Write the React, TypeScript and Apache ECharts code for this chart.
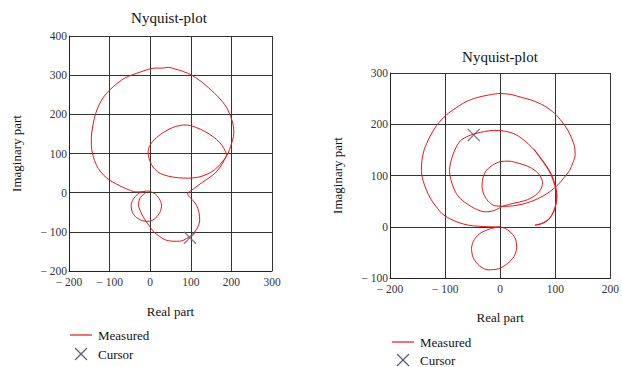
import React, { useEffect, useRef } from "react";
import * as echarts from "echarts";

// ---- Left Nyquist plot (Real / Imaginary parts) ----
const leftRe = [
  92, 100, 112, 128, 145, 160, 172, 182, 188,
  182, 172, 155, 135, 112, 86, 60, 36, 15, 0, -5, -3, 3, 12, 25, 45, 70, 95, 120, 140, 158, 172, 183, 192,
  198, 203, 206, 205, 201, 195, 188, 178, 166, 152, 136, 120, 102, 80, 60, 45, 30, 12, -10, -30, -46, -62, -80, -99, -115, -126, -134, -139, -143, -145, -145, -142, -137, -128, -115, -100, -85, -68, -52, -37, -22, -10, 0,
  12, 22, 28, 24, 14, -2, -18, -34, -44, -47, -42, -32, -20, -12,
  -24, -29, -22, -13, 0, 8, 22, 36, 56, 72, 90, 104, 116, 122, 120, 114, 103, 94, 92,
];
const leftIm = [
  -1, 5, 14, 26, 38, 50, 65, 82, 97,
  112, 127, 143, 156, 167, 173, 168, 156, 140, 122, 105, 88, 72, 59, 49, 42, 38, 37, 40, 47, 58, 72, 86, 101,
  118, 135, 152, 169, 186, 203, 218, 232, 246, 260, 275, 288, 300, 310, 316, 320, 318, 318, 313, 306, 300, 293, 280, 263, 244, 224, 203, 183, 160, 140, 120, 100, 82, 62, 45, 32, 23, 14, 7, 2, 2, 4, 3,
  -3, -15, -32, -50, -64, -73, -72, -63, -50, -33, -17, -5, 2, 0,
  -12, -31, -52, -69, -88, -99, -111, -120, -124, -124, -117, -106, -90, -70, -50, -32, -17, -8, -1,
];
const leftCursor = [98, -115];

// ---- Right Nyquist plot ----
const rightRe = [
  0, -18, -35, -47, -52, -49, -38, -22, -3, 13, 25, 30, 27, 16, 3,
  -21, -40, -57, -75, -92, -106, -116, -126, -134, -140, -143, -142, -138, -128, -115, -98, -80, -62, -42, -21, 0, 20, 40, 57, 80, 99, 112, 123, 130, 135, 136, 132, 126, 116, 105, 92, 78, 58, 36, 12, -10,
  -22, -30, -33, -31, -25, -14, 0, 16, 33, 50, 63, 72, 77, 73, 62, 45, 25, 5,
  -10, -27, -45, -62, -75, -83, -89, -92, -90, -86, -80, -72, -58, -44, -28, -12, 5, 24, 42, 60, 72, 84, 92, 97, 101, 102, 100, 95, 87, 76, 63,
  76, 88, 96, 101, 103, 102, 98, 93, 85, 73, 61,
];
const rightIm = [
  0, -4, -12, -25, -42, -60, -76, -84, -82, -72, -58, -40, -22, -8, -1,
  0, 1, 3, 8, 16, 26, 39, 54, 72, 90, 110, 130, 150, 175, 198, 218, 232, 244, 252, 257, 260, 258, 252, 247, 236, 221, 205, 188, 172, 156, 140, 125, 110, 96, 82, 70, 60, 50, 43, 40, 41,
  50, 64, 80, 96, 110, 120, 127, 128, 124, 118, 110, 100, 86, 72, 60, 51, 46, 40,
  32, 29, 35, 46, 58, 72, 90, 110, 125, 140, 155, 168, 177, 182, 186, 188, 187, 182, 170, 152, 135, 117, 102, 88, 72, 58, 40, 25, 13, 6, 3,
  7, 15, 27, 42, 58, 72, 88, 102, 117, 135, 152,
];
const rightCursor = [-48, 179];

const leftXTicks = { min: -200, max: 300, interval: 100 };
const leftYTicks = { min: -200, max: 400, interval: 100 };
const rightXTicks = { min: -200, max: 200, interval: 100 };
const rightYTicks = { min: -100, max: 300, interval: 100 };

const zip = (a: number[], b: number[]) => a.map((v, i) => [v, b[i]]);

const SERIF = "'Liberation Serif', 'Times New Roman', serif";
const RED = "#e8141a";
const CURSOR = "#5a5c78";
const crossPath = "path://M0,0L10,10M10,0L0,10";

const fmt = (v: number) => (v < 0 ? "\u2212 " + Math.abs(v) : String(v));

function xAxis(gridIndex: number, t: any, nameGap: number) {
  return {
    type: "value",
    gridIndex,
    ...t,
    name: "Real part",
    nameLocation: "middle",
    nameGap,
    nameTextStyle: { fontFamily: SERIF, fontSize: 13, color: "#111" },
    axisLine: { show: true, onZero: false, lineStyle: { color: "#222", width: 1 } },
    axisTick: { show: false },
    axisLabel: { fontFamily: SERIF, fontSize: 11.5, color: "#333", margin: 5, formatter: fmt },
    splitLine: { show: true, lineStyle: { color: "#333", width: 1 } },
  };
}
function yAxis(gridIndex: number, t: any, nameGap: number) {
  return {
    type: "value",
    gridIndex,
    ...t,
    name: "Imaginary part",
    nameLocation: "middle",
    nameGap,
    nameTextStyle: { fontFamily: SERIF, fontSize: 13, color: "#111" },
    axisLine: { show: true, onZero: false, lineStyle: { color: "#222", width: 1 } },
    axisTick: { show: false },
    axisLabel: { fontFamily: SERIF, fontSize: 11.5, color: "#333", margin: 2, formatter: fmt },
    splitLine: { show: true, lineStyle: { color: "#333", width: 1 } },
  };
}

function text(x: number, y: number, s: string, size: number, align = "left") {
  return {
    type: "text",
    x,
    y,
    style: { text: s, fontFamily: SERIF, fontSize: size, fill: "#111", textAlign: align, textVerticalAlign: "middle" },
  };
}
function legend(x: number, y1: number, y2: number) {
  return [
    { type: "line", shape: { x1: x, y1, x2: x + 22, y2: y1 }, style: { stroke: RED, lineWidth: 1.2 } },
    text(x + 28, y1, "Measured", 13),
    { type: "line", shape: { x1: x + 5, y1: y2 - 6, x2: x + 17, y2: y2 + 6 }, style: { stroke: CURSOR, lineWidth: 1.2 } },
    { type: "line", shape: { x1: x + 5, y1: y2 + 6, x2: x + 17, y2: y2 - 6 }, style: { stroke: CURSOR, lineWidth: 1.2 } },
    text(x + 28, y2, "Cursor", 13),
  ];
}

export default function App() {
  const ref = useRef<HTMLDivElement>(null);
  useEffect(() => {
    if (!ref.current) return;
    const chart = echarts.init(ref.current, null, { renderer: "svg" });
    chart.setOption({
      animation: false,
      backgroundColor: "#fff",
      textStyle: { fontFamily: SERIF },
      grid: [
        { left: 69, top: 36, width: 203, height: 235 },
        { left: 390, top: 73, width: 223, height: 205 },
      ],
      xAxis: [xAxis(0, leftXTicks, 34), xAxis(1, rightXTicks, 33)],
      yAxis: [yAxis(0, leftYTicks, 46), yAxis(1, rightYTicks, 46)],
      series: [
        {
          name: "Measured", type: "line", xAxisIndex: 0, yAxisIndex: 0, data: zip(leftRe, leftIm),
          symbol: "none", smooth: 0.3, lineStyle: { color: RED, width: 1 },
        },
        {
          name: "Cursor", type: "scatter", xAxisIndex: 0, yAxisIndex: 0, data: [leftCursor],
          symbol: crossPath, symbolSize: 12, itemStyle: { color: "none", borderColor: CURSOR, borderWidth: 1.2 },
        },
        {
          name: "Measured", type: "line", xAxisIndex: 1, yAxisIndex: 1, data: zip(rightRe, rightIm),
          symbol: "none", smooth: 0.3, lineStyle: { color: RED, width: 1 },
        },
        {
          name: "Cursor", type: "scatter", xAxisIndex: 1, yAxisIndex: 1, data: [rightCursor],
          symbol: crossPath, symbolSize: 12, itemStyle: { color: "none", borderColor: CURSOR, borderWidth: 1.2 },
        },
      ],
      graphic: [
        text(169, 18, "Nyquist-plot", 15, "center"),
        text(500, 57, "Nyquist-plot", 15, "center"),
        ...legend(70, 335, 354),
        ...legend(392, 342, 360),
      ],
    });
    return () => chart.dispose();
  }, []);
  return <div ref={ref} style={{ position: "absolute", left: 0, top: 0, width: 622, height: 367 }} />;
}
